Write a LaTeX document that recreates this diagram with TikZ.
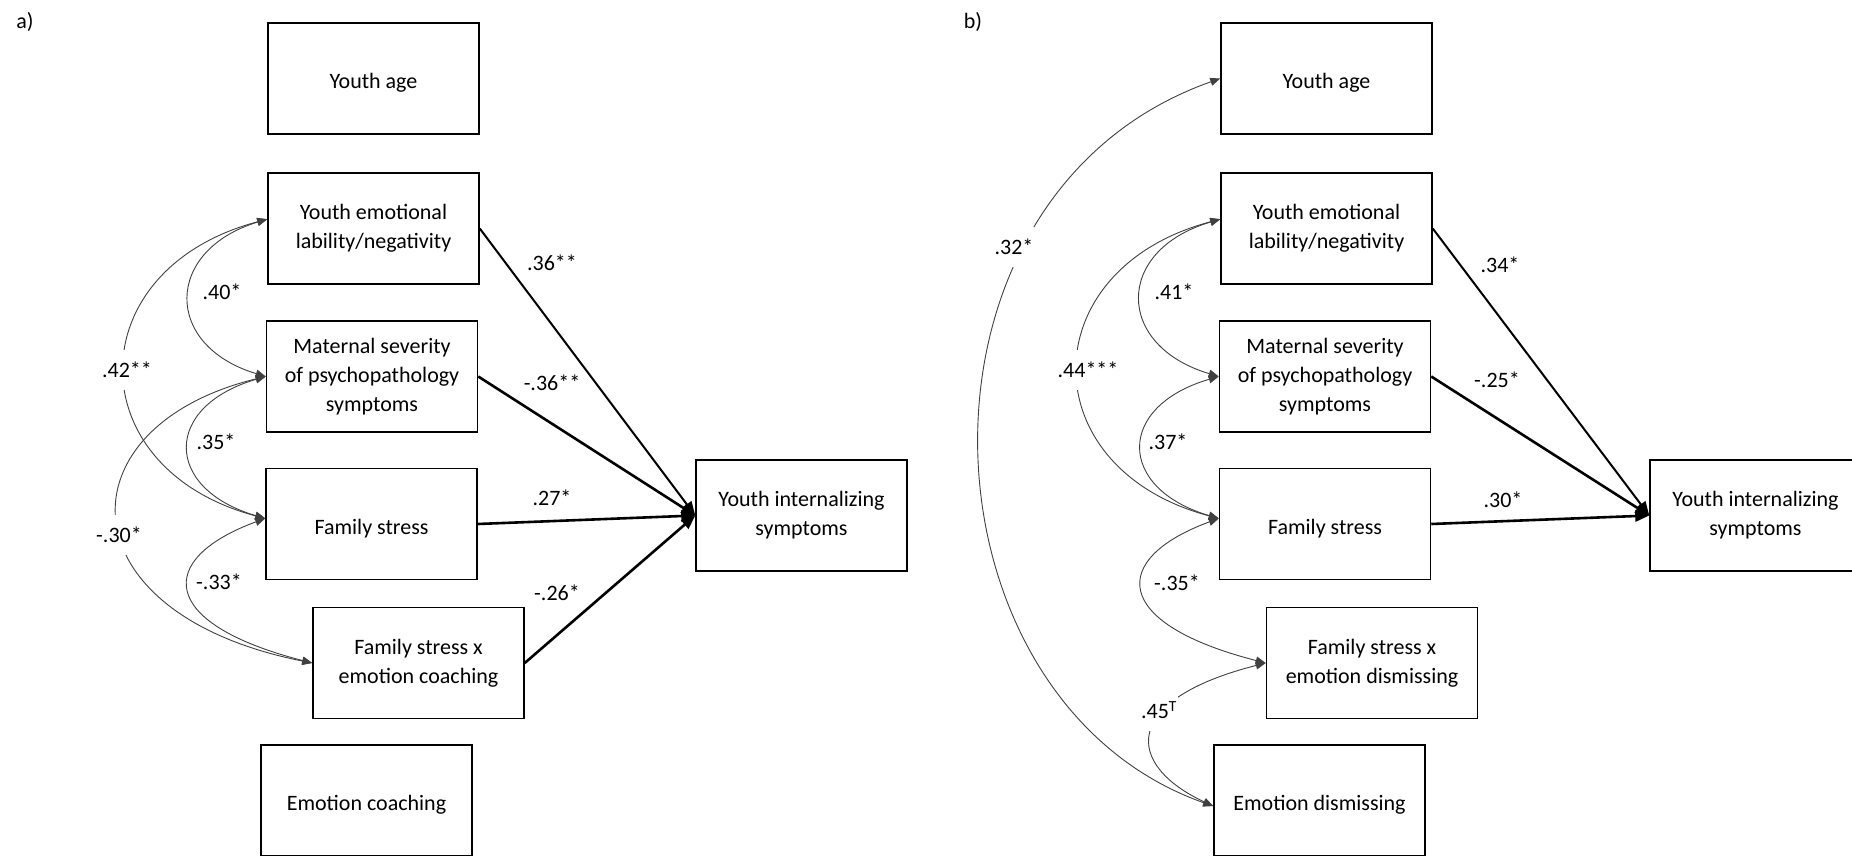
\documentclass[tikz,border=0pt]{standalone}
\usepackage{fontspec}
\setmainfont{Carlito}
\usetikzlibrary{arrows.meta}
\begin{document}
\begin{tikzpicture}[x=1pt,y=-1pt,
  box/.style={draw,line width=1.5pt,minimum width=211pt,minimum height=111pt,align=center,inner sep=0pt,font=\fontsize{22}{29}\selectfont,execute at begin node={\rule{0pt}{24pt}}},
  lbl/.style={font=\fontsize{22}{26}\selectfont,inner sep=1pt},
  gaplbl/.style={lbl,fill=white,inner ysep=12pt},
  reg/.style={line width=2.6pt,-{Triangle[length=14pt,width=11pt]}},
  cov/.style={line width=0.9pt,draw=black!75,{Triangle[length=10pt,width=8pt]}-{Triangle[length=10pt,width=8pt]}}
]
\useasboundingbox (0,0) rectangle (1852,856);
\clip (0,0) rectangle (1852,856);

% ---------- panel a ----------
\node[lbl] (la) at (25,22) {a)};
\node[box] (ageA) at (373.5,78.5) {Youth age};
\node[box] (yeA) at (373.5,228.5) {Youth emotional\\lability/negativity};
\node[box] (msA) at (372,376.5) {Maternal severity\\of psychopathology\\symptoms};
\node[box] (fsA) at (371.5,524) {Family stress};
\node[box] (fxA) at (418.5,663) {Family stress x\\emotion coaching};
\node[box] (ecA) at (366.5,800.5) {Emotion coaching};
\node[box] (yiA) at (801.5,515.5) {Youth internalizing\\symptoms};

\draw[reg,line width=2pt] (yeA.east) -- (yiA.west);
\draw[reg] (msA.east) -- (yiA.west);
\draw[reg] (fsA.east) -- (yiA.west);
\draw[reg] (fxA.east) -- (yiA.west);
\node[lbl] (a1) at (552,263) {.36**};
\node[lbl] (a2) at (552,383) {-.36**};
\node[lbl] (a3) at (552,498) {.27*};
\node[lbl] (a4) at (557,593) {-.26*};

\draw[cov] (yeA.175) .. controls +(-103,31) and +(-103,-31) .. (msA.west);
\draw[cov] (yeA.175) .. controls +(-189,50) and +(-188,-50) .. (fsA.177);
\draw[cov] (msA.west) .. controls +(-103,30) and +(-102,-30) .. (fsA.177);
\draw[cov] (msA.west) .. controls +(-205,50) and +(-251,-50) .. (fxA.west);
\draw[cov] (fsA.177) .. controls +(-109,40) and +(-156,-40) .. (fxA.west);
\node[lbl] (c1) at (222,292) {.40*};
\node[gaplbl] (c2) at (127,370) {.42**};
\node[lbl] (c3) at (216,442) {.35*};
\node[gaplbl] (c4) at (119,535) {-.30*};
\node[lbl] (c5) at (219,582) {-.33*};

% ---------- panel b ----------
\node[lbl] (lb) at (973,22) {b)};
\node[box] (ageB) at (1326.5,78.5) {Youth age};
\node[box] (yeB) at (1326.5,228.5) {Youth emotional\\lability/negativity};
\node[box] (msB) at (1325,376.5) {Maternal severity\\of psychopathology\\symptoms};
\node[box] (fsB) at (1325,524) {Family stress};
\node[box] (fxB) at (1372,663) {Family stress x\\emotion dismissing};
\node[box] (edB) at (1319.5,800.5) {Emotion dismissing};
\node[box] (yiB) at (1755.5,515.5) {Youth internalizing\\symptoms};

\draw[reg,line width=2pt] (yeB.east) -- (yiB.west);
\draw[reg] (msB.east) -- (yiB.west);
\draw[reg] (fsB.east) -- (yiB.west);
\node[lbl] (b1) at (1500,265) {.34*};
\node[lbl] (b2) at (1497,380) {-.25*};
\node[lbl] (b3) at (1503,500) {.30*};

\draw[cov] (ageB.west) .. controls (890,195) and (912,700) .. (edB.183);
\draw[cov] (yeB.175) .. controls +(-106,31) and +(-104,-31) .. (msB.west);
\draw[cov] (yeB.175) .. controls +(-189,50) and +(-188,-50) .. (fsB.177);
\draw[cov] (msB.west) .. controls +(-103,30) and +(-102,-30) .. (fsB.177);
\draw[cov] (fsB.177) .. controls +(-109,40) and +(-156,-40) .. (fxB.west);
\draw[cov] (fxB.west) .. controls (1120,700) and (1125,765) .. (edB.183);
\node[gaplbl] (d0) at (1014,247) {.32*};
\node[lbl] (d1) at (1174,292) {.41*};
\node[gaplbl] (d2) at (1088,370) {.44***};
\node[lbl] (d3) at (1168,442) {.37*};
\node[lbl] (d4) at (1177,583) {-.35*};
\node[gaplbl] (d5) at (1159,710) {.45\textsuperscript{T}};
\end{tikzpicture}
\end{document}
